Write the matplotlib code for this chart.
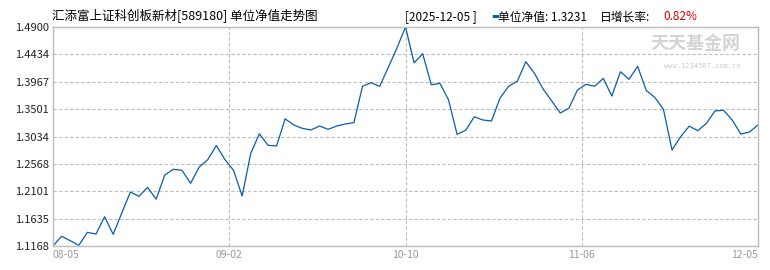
import numpy as np
import matplotlib.pyplot as plt

plt.rcParams['font.family'] = ['Noto Sans CJK SC', 'DejaVu Sans']

# unit NAV, one value per trading day, 08-05 .. 12-05
nav = [1.1168, 1.1335, 1.1258, 1.1180, 1.1401, 1.1372, 1.1667, 1.1367, 1.1730, 1.2088,
       1.2015, 1.2168, 1.1966, 1.2378, 1.2475, 1.2458, 1.2236, 1.2512, 1.2640, 1.2880,
       1.2640, 1.2458, 1.2020, 1.2747, 1.3080, 1.2885, 1.2872, 1.3335, 1.3230, 1.3173,
       1.3145, 1.3213, 1.3156, 1.3213, 1.3247, 1.3270, 1.3890, 1.3950, 1.3890, 1.4213,
       1.4540, 1.4900, 1.4290, 1.4445, 1.3915, 1.3940, 1.3660, 1.3071, 1.3140, 1.3370,
       1.3315, 1.3298, 1.3690, 1.3890, 1.3975, 1.4308, 1.4110, 1.3845, 1.3640, 1.3435,
       1.3515, 1.3826, 1.3923, 1.3890, 1.4025, 1.3724, 1.4138, 1.4008, 1.4230, 1.3820,
       1.3700, 1.3497, 1.2804, 1.3030, 1.3210, 1.3133, 1.3259, 1.3470, 1.3480, 1.3315,
       1.3075, 1.3110, 1.3231]
xlabels = ['08-05', '09-02', '10-10', '11-06', '12-05']
yticks = [1.1168, 1.1635, 1.2101, 1.2568, 1.3034, 1.3501, 1.3967, 1.4434, 1.4900]

title = '汇添富上证科创板新材[589180] 单位净值走势图'
last_date = '2025-12-05'
last_nav = '1.3231'
last_rate = '0.82%'

W, H = 770, 270
fig = plt.figure(figsize=(W / 100, H / 100), dpi=100)
ax = fig.add_axes([53 / W, 24 / H, 705 / W, 219 / H])

n = len(nav)
x = np.arange(n)
ax.plot(x, nav, color='#0b5cad', lw=0.9)

ax.set_xlim(0, n - 1)
ax.set_ylim(yticks[0], yticks[-1])
ax.set_yticks(yticks)
ax.set_yticklabels(['%.4f' % v for v in yticks], fontsize=8, color='#222222')
xt = np.linspace(0, n - 1, len(xlabels))
ax.set_xticks(xt)
ax.set_xticklabels(xlabels, fontsize=7.5, color='#999999')
ax.tick_params(length=0, pad=3)
for lbl in ax.get_xticklabels():
    lbl.set_horizontalalignment('center')
ax.get_xticklabels()[0].set_horizontalalignment('left')
ax.get_xticklabels()[-1].set_horizontalalignment('right')

for v in yticks[1:-1]:
    ax.axhline(v, color='#bbbbbb', lw=0.8, ls=(0, (3, 2)), zorder=0)
for v in xt[1:-1]:
    ax.axvline(v, color='#bbbbbb', lw=0.8, ls=(0, (3, 2)), zorder=0)
for s in ax.spines.values():
    s.set_color('#bbbbbb')
    s.set_linewidth(1)

# watermark
ax.text(0.975, 0.925, '天天基金网', transform=ax.transAxes, ha='right', va='center',
        fontsize=13, color='#d4d4d4', fontweight='bold')
ax.text(0.975, 0.82, 'www.1234567.com.cn', transform=ax.transAxes, ha='right',
        va='center', fontsize=5, color='#cccccc', family='DejaVu Sans Mono')

# header
fig.text(52 / W, 1 - 16 / H, title, fontsize=9, ha='left', va='center')
fig.text(405 / W, 1 - 17 / H, '[' + last_date + ' ]', fontsize=8.5, ha='left', va='center')
fig.text(491 / W, 1 - 17 / H, '▬', fontsize=6, ha='left', va='center', color='#0b5cad')
fig.text(498 / W, 1 - 17 / H, '单位净值: ' + last_nav, fontsize=8.5, ha='left', va='center')
fig.text(600 / W, 1 - 17 / H, '日增长率:', fontsize=8.5, ha='left', va='center')
fig.text(663 / W, 1 - 17 / H, last_rate, fontsize=8.5, ha='left', va='center', color='#e00000')

fig.savefig('out.png', dpi=100)
